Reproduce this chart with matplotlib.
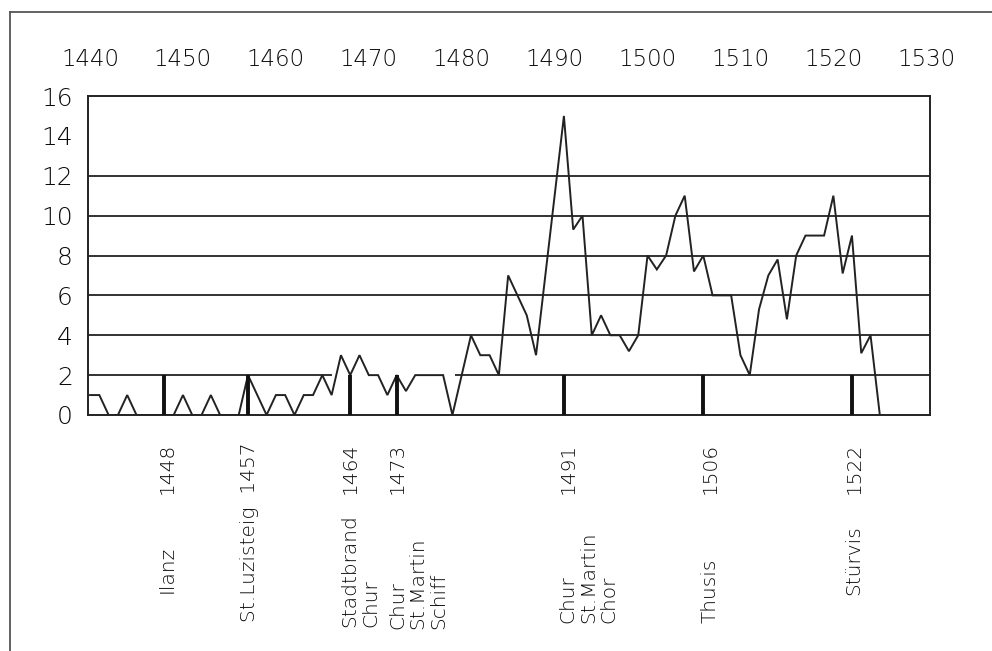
import matplotlib
matplotlib.use("Agg")
import matplotlib.pyplot as plt
from matplotlib.lines import Line2D
from matplotlib.transforms import blended_transform_factory, offset_copy

# ---------------- data ----------------
years = list(range(1440, 1526))
values = [1, 1, 0, 0, 1, 0, 0, 0, 0, 0,          # 1440-1449
          1, 0, 0, 1, 0, 0, 0, 2, 1, 0,          # 1450-1459
          1, 1, 0, 1, 1, 2, 1, 3, 2, 3,          # 1460-1469
          2, 2, 1, 2, 1.2, 2, 2, 2, 2, 0,        # 1470-1479
          2, 4, 3, 3, 2, 7, 6, 5, 3, 7,          # 1480-1489
          11, 15, 9.3, 10, 4, 5, 4, 4, 3.2, 4,   # 1490-1499
          8, 7.3, 8, 10, 11, 7.2, 8, 6, 6, 6,    # 1500-1509
          3, 2, 5.3, 7, 7.8, 4.8, 8, 9, 9, 9,    # 1510-1519
          11, 7.1, 9, 3.1, 4, 0]                 # 1520-1525

top_ticks = [1440, 1450, 1460, 1470, 1480, 1490, 1500, 1510, 1520, 1530]
y_ticks = [0, 2, 4, 6, 8, 10, 12, 14, 16]
grid_levels = [4, 6, 8, 10, 12]

event_years = ["1448", "1457", "1464", "1473", "1491", "1506", "1522"]
# where the sketch draws each event marker (the 1464 marker sits at 1468 in the original)
event_x = [1448, 1457, 1468, 1473, 1491, 1506, 1522]
event_height = 2
event_names = [["Ilanz"], None, ["Stadtbrand", "Chur"],
               ["Chur", "St.Martin", "Schiff"],
               ["Chur", "St.Martin", "Chor"], ["Thusis"], ["Stürvis"]]

# ---------------- figure ----------------
W, H = 992, 651
plt.rcParams['font.family'] = ['DejaVu Sans']
plt.rcParams['font.weight'] = 'light'
fig = plt.figure(figsize=(W / 100, H / 100), dpi=100)
ink = "#222222"
txt = "#0a0a0a"

x0 = 1439.78
x1 = 1530.4
ax = fig.add_axes([88 / W, 1 - 415 / H, (930 - 88) / W, (415 - 96) / H])
ax.set_xlim(x0, x1)
ax.set_ylim(0, 16)

for s in ax.spines.values():
    s.set_color(ink)
    s.set_linewidth(1.4)

# horizontal rules
for g in grid_levels:
    ax.axhline(g, color=ink, lw=1.3, zorder=1)
ax.hlines(2, x0, 1466.0, color=ink, lw=1.3, zorder=1)
ax.hlines(2, 1479.3, x1, color=ink, lw=1.3, zorder=1)

# series
ax.plot(years, values, color=ink, lw=1.4, zorder=3, solid_joinstyle='miter')

# event markers
ax.vlines(event_x, 0, event_height, color="#111111", lw=2.8, zorder=4)

# y ticks
ax.set_yticks(y_ticks)
ax.set_yticklabels([str(t) for t in y_ticks], fontsize=18, color=txt,
                   fontweight='light')
ax.tick_params(axis='y', length=0, pad=11)

# top year axis
ax.xaxis.tick_top()
ax.set_xticks(top_ticks)
ax.set_xticklabels([str(t) for t in top_ticks], fontsize=16.5, color=txt,
                   fontweight='light')
ax.tick_params(axis='x', length=0, pad=18)

# event labels below
trans = blended_transform_factory(ax.transData, fig.transFigure)
year_top = 1 - 443 / H
name_bottom = [1 - 593 / H, None, 1 - 627 / H, 1 - 629 / H, 1 - 623 / H, 1 - 623 / H, 1 - 595 / H]
label_shift = [3, 1, 0, 1, 4, 7, 2]  # pixels to the right of marker
line_step = 20.5  # pixels between stacked lines
fs = 14.5

for i, (ex, ey) in enumerate(zip(event_x, event_years)):
    tr = offset_copy(trans, fig=fig, x=label_shift[i], y=0, units='dots')
    if event_names[i] is None:
        fig.text(ex, year_top, "St.Luzisteig  " + ey, rotation=90, ha='center',
                 va='top', fontsize=fs, color=txt, transform=tr,
                 fontweight='light')
        continue
    fig.text(ex, year_top, ey, rotation=90, ha='center', va='top',
             fontsize=fs, color=txt, transform=tr, fontweight='light')
    for j, line in enumerate(event_names[i]):
        trj = offset_copy(trans, fig=fig, x=label_shift[i] + j * line_step,
                          y=0, units='dots')
        fig.text(ex, name_bottom[i], line, rotation=90, ha='center',
                 va='bottom', fontsize=fs, color=txt, transform=trj,
                 fontweight='light')

# page frame (top and left edges of the scanned sheet)
fig.add_artist(Line2D([10 / W, 1.0], [1 - 12 / H, 1 - 12 / H],
                      transform=fig.transFigure, color="#555555", lw=1.3))
fig.add_artist(Line2D([10 / W, 10 / W], [0.0, 1 - 12 / H],
                      transform=fig.transFigure, color="#555555", lw=1.3))

fig.savefig("out.png", dpi=100)
